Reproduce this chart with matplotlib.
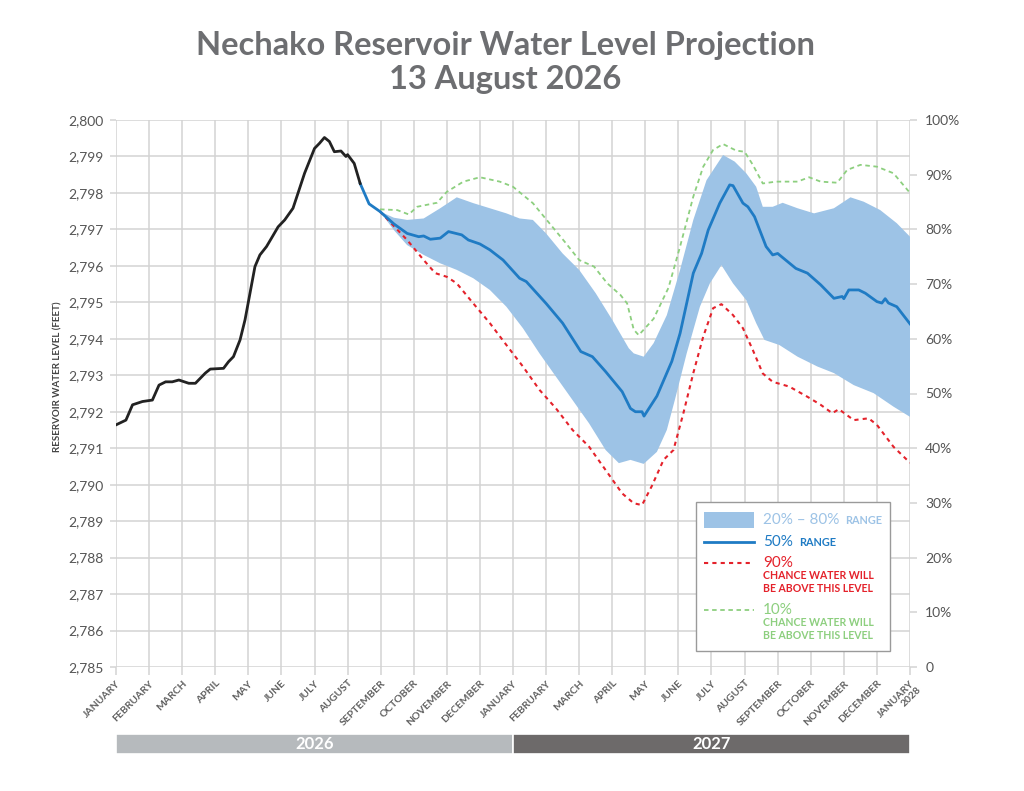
import numpy as np
import matplotlib
matplotlib.use("Agg")
from matplotlib import pyplot as plt
from matplotlib.patches import Rectangle
from matplotlib.lines import Line2D

plt.rcParams["font.family"] = ["Lato", "DejaVu Sans"]

# months since January 2026
months = ["JANUARY", "FEBRUARY", "MARCH", "APRIL", "MAY", "JUNE", "JULY", "AUGUST",
          "SEPTEMBER", "OCTOBER", "NOVEMBER", "DECEMBER"]
month_labels = months + months + ["JANUARY\n2028"]
years = ["2026", "2027"]

# observed level
hist_m = [0.0, 0.3, 0.5, 0.8, 1.1, 1.3, 1.5, 1.7, 1.9, 2.2, 2.4, 2.55, 2.7, 2.85, 3.25, 3.4,
          3.55, 3.75, 3.9, 4.05, 4.2, 4.35, 4.55, 4.7, 4.9, 5.1, 5.35, 5.5, 5.7, 6.0, 6.15,
          6.3, 6.45, 6.6, 6.8, 6.95, 7.0, 7.2, 7.38]
hist_v = [2791.64, 2791.77, 2792.19, 2792.28, 2792.32, 2792.73, 2792.82, 2792.82, 2792.87,
          2792.78, 2792.78, 2792.92, 2793.06, 2793.17, 2793.19, 2793.37, 2793.51, 2793.97,
          2794.52, 2795.25, 2795.98, 2796.30, 2796.53, 2796.76, 2797.07, 2797.26, 2797.58,
          2797.99, 2798.54, 2799.22, 2799.36, 2799.52, 2799.41, 2799.13, 2799.15, 2799.0,
          2799.05, 2798.81, 2798.26]

# 50% projection
median_m = [7.38, 7.65, 7.98, 8.4, 8.8, 9.15, 9.3, 9.5, 9.8, 10.05, 10.45, 10.65, 11.0, 11.3,
            11.7, 12.2, 12.4, 13.0, 13.5, 14.05, 14.4, 14.8, 15.3, 15.55, 15.7, 15.9, 15.96,
            16.35, 16.8, 17.05, 17.45, 17.7, 17.9, 18.25, 18.55, 18.65, 18.95, 19.1, 19.3,
            19.65, 19.85, 20.0, 20.55, 20.9, 21.3, 21.7, 21.95, 22.0, 22.15, 22.45, 22.65,
            23.0, 23.15, 23.25, 23.35, 23.6, 24.0]
median_v = [2798.26, 2797.70, 2797.49, 2797.15, 2796.89, 2796.80, 2796.82, 2796.73, 2796.76,
            2796.94, 2796.85, 2796.71, 2796.60, 2796.44, 2796.16, 2795.66, 2795.57, 2794.97,
            2794.43, 2793.65, 2793.51, 2793.10, 2792.55, 2792.09, 2792.00, 2792.00, 2791.88,
            2792.43, 2793.38, 2794.15, 2795.80, 2796.34, 2796.98, 2797.72, 2798.22, 2798.20,
            2797.72, 2797.62, 2797.35, 2796.53, 2796.30, 2796.34, 2795.93, 2795.80, 2795.48,
            2795.11, 2795.16, 2795.10, 2795.34, 2795.34, 2795.25, 2795.02, 2794.98, 2795.10,
            2794.98, 2794.88, 2794.41]

# 20% - 80% band
band_up_m = [7.98, 8.4, 8.8, 9.3, 9.8, 10.3, 10.8, 11.3, 11.8, 12.2, 12.6, 13.0, 13.5, 14.0,
             14.5, 15.0, 15.5, 15.65, 15.95, 16.25, 16.65, 17.05, 17.45, 17.85, 18.35, 18.7,
             19.05, 19.35, 19.55, 19.85, 20.15, 20.6, 21.1, 21.7, 21.9, 22.2, 22.6, 23.1,
             23.6, 24.0]
band_up_v = [2797.49, 2797.32, 2797.26, 2797.30, 2797.58, 2797.88, 2797.72, 2797.58, 2797.44,
             2797.30, 2797.26, 2796.89, 2796.34, 2795.89, 2795.25, 2794.52, 2793.74, 2793.60,
             2793.51, 2793.88, 2794.65, 2795.89, 2797.26, 2798.35, 2799.04, 2798.86, 2798.54,
             2798.17, 2797.62, 2797.62, 2797.73, 2797.58, 2797.44, 2797.58, 2797.70, 2797.88,
             2797.76, 2797.53, 2797.17, 2796.80]
band_lo_m = [7.98, 8.4, 8.8, 9.3, 9.8, 10.3, 10.8, 11.3, 11.8, 12.3, 12.8, 13.3, 13.8, 14.3,
             14.8, 15.2, 15.55, 15.95, 16.35, 16.65, 16.9, 17.25, 17.65, 17.95, 18.3, 18.65,
             19.05, 19.35, 19.6, 20.05, 20.6, 21.2, 21.7, 22.3, 22.9, 23.5, 24.0]
band_lo_v = [2797.49, 2796.98, 2796.57, 2796.30, 2796.07, 2795.89, 2795.66, 2795.34, 2794.88,
             2794.29, 2793.60, 2792.96, 2792.32, 2791.68, 2790.95, 2790.59, 2790.68, 2790.57,
             2790.90, 2791.50, 2792.35, 2793.60, 2794.88, 2795.52, 2796.02, 2795.52, 2795.06,
             2794.43, 2793.97, 2793.83, 2793.51, 2793.24, 2793.06, 2792.73, 2792.51, 2792.14,
             2791.86]

# 90% chance above
p90_m = [7.98, 8.8, 9.3, 9.65, 10.0, 10.3, 10.8, 11.3, 11.8, 12.3, 12.8, 13.3, 13.8, 14.3,
         14.8, 15.3, 15.65, 15.9, 16.2, 16.55, 16.85, 17.15, 17.45, 17.75, 18.05, 18.3, 18.65,
         18.95, 19.25, 19.55, 19.85, 20.35, 20.9, 21.3, 21.65, 21.85, 22.3, 22.75, 23.0, 23.5,
         24.0]
p90_v = [2797.49, 2796.71, 2796.16, 2795.80, 2795.70, 2795.52, 2794.97, 2794.43, 2793.83,
         2793.24, 2792.60, 2792.09, 2791.50, 2791.04, 2790.40, 2789.76, 2789.49, 2789.44,
         2789.97, 2790.68, 2790.95, 2791.96, 2793.06, 2794.06, 2794.84, 2794.95, 2794.65,
         2794.29, 2793.69, 2793.05, 2792.82, 2792.69, 2792.41, 2792.19, 2791.96, 2792.07,
         2791.77, 2791.82, 2791.64, 2791.04, 2790.60]

# 10% chance above
p10_m = [7.98, 8.5, 8.85, 9.1, 9.7, 10.0, 10.5, 11.0, 11.6, 12.0, 12.6, 13.1, 13.6, 14.0,
         14.45, 14.85, 15.25, 15.45, 15.65, 15.8, 16.25, 16.7, 17.05, 17.45, 17.75, 18.05,
         18.35, 18.75, 19.0, 19.25, 19.55, 19.95, 20.6, 20.95, 21.3, 21.8, 22.1, 22.5, 23.0,
         23.5, 24.0]
p10_v = [2797.55, 2797.53, 2797.41, 2797.62, 2797.73, 2798.03, 2798.31, 2798.43, 2798.31,
         2798.17, 2797.72, 2797.17, 2796.62, 2796.16, 2795.98, 2795.52, 2795.20, 2794.97,
         2794.25, 2794.10, 2794.55, 2795.40, 2796.53, 2797.90, 2798.72, 2799.18, 2799.34,
         2799.16, 2799.13, 2798.77, 2798.26, 2798.31, 2798.31, 2798.43, 2798.31, 2798.28,
         2798.63, 2798.77, 2798.72, 2798.54, 2798.0]

GRID = "#d3d3d3"
TXT = "#555555"
BAND = "#9dc3e6"
BLUE = "#1f7bc4"
RED = "#e4222b"
GREEN = "#8dcf7f"

W, H = 1024, 791
fig = plt.figure(figsize=(W / 100, H / 100), dpi=100)


def fx(px):
    return px / W


def fy(py):
    return 1 - py / H


ax = fig.add_axes([fx(116), fy(667), fx(910) - fx(116), fy(120) - fy(667)])
ax.set_xlim(0, 24)
ax.set_ylim(2785, 2800)
ax.set_xticks(range(25))
ax.set_xticklabels(month_labels, rotation=45, ha="right", va="top",
                   rotation_mode="anchor", fontsize=7.5, color="#606060",
                   fontweight="bold", linespacing=1.0)
ax.set_yticks(range(2785, 2801))
ax.set_yticklabels([f"{v:,}" for v in range(2785, 2801)], fontsize=10, color=TXT)
ax.tick_params(axis="x", length=5.5, color=GRID, width=1.1, pad=3)
ax.tick_params(axis="y", length=4, color=GRID, width=1.1, pad=5)
ax.grid(True, color=GRID, linewidth=1.1)
ax.set_axisbelow(True)
for s in ax.spines.values():
    s.set_visible(False)

poly_x = np.concatenate([band_up_m, band_lo_m[::-1]])
poly_y = np.concatenate([band_up_v, band_lo_v[::-1]])
ax.fill(poly_x, poly_y, color=BAND, linewidth=0, zorder=2)
ax.plot(p10_m, p10_v, color=GREEN, linestyle=(0, (2.5, 2)), linewidth=1.3, zorder=3)
ax.plot(p90_m, p90_v, color=RED, linestyle=(0, (2, 2)), linewidth=1.5, zorder=3)
ax.plot(median_m, median_v, color=BLUE, linewidth=2.0, zorder=4)
ax.plot(hist_m, hist_v, color="#222222", linewidth=2.0, zorder=5)

ax2 = ax.twinx()
ax2.set_ylim(0, 100)
ax2.set_yticks(range(0, 101, 10))
ax2.set_yticklabels(["0"] + [f"{v}%" for v in range(10, 101, 10)], fontsize=10, color=TXT)
ax2.tick_params(axis="y", length=5, color=GRID, width=1.1, pad=6)
for s in ax2.spines.values():
    s.set_visible(False)

fig.text(fx(58), fy(377), "RESERVOIR WATER LEVEL (FEET)", rotation=90, ha="center",
         va="center", fontsize=7, color="#444444", fontweight="bold")

# title
tcol = "#6d6e71"
fig.text(fx(505), fy(45), "Nechako Reservoir Water Level Projection", ha="center",
         va="center", fontsize=23.5, fontweight="bold", color=tcol)
fig.text(fx(505), fy(80), "13 August 2026", ha="center", va="center", fontsize=23.5,
         fontweight="bold", color=tcol)

# year bar
axy = fig.add_axes([fx(116), fy(754), fx(910) - fx(116), fy(734) - fy(754)])
axy.set_xlim(0, 24)
axy.set_ylim(0, 1)
axy.barh(0.5, 12, left=0, height=1, color="#b6babd", edgecolor="white", linewidth=1.2)
axy.barh(0.5, 12, left=12, height=1, color="#6d6a6a", edgecolor="white", linewidth=1.2)
for i, yr in enumerate(years):
    axy.text(12 * i + 6, 0.5, yr, ha="center", va="center", color="white",
             fontsize=12, fontweight="bold")
axy.axis("off")

# legend
lg = fig.add_axes([0, 0, 1, 1])
lg.set_xlim(0, W)
lg.set_ylim(H, 0)
lg.axis("off")
lg.add_patch(Rectangle((696, 502), 194, 149, facecolor="white", edgecolor="#9a9a9a",
                       linewidth=1.0))
lg.add_patch(Rectangle((704, 512), 50, 16, facecolor=BAND, edgecolor="none"))
lg.text(763, 520, "20% – 80%", color=BAND, fontsize=11, va="center")
lg.text(845, 521, "RANGE", color=BAND, fontsize=7.8, va="center", fontweight="bold")
lg.add_line(Line2D([704, 754], [542, 542], color=BLUE, linewidth=2.0))
lg.text(763, 542, "50%", color=BLUE, fontsize=11, va="center")
lg.text(799, 543, "RANGE", color=BLUE, fontsize=7.8, va="center", fontweight="bold")
lg.add_line(Line2D([704, 754], [563, 563], color=RED, linewidth=1.5,
                   linestyle=(0, (2, 2))))
lg.text(763, 563, "90%", color=RED, fontsize=11, va="center")
lg.text(763, 582, "CHANCE WATER WILL\nBE ABOVE THIS LEVEL", color=RED, fontsize=7.6,
        va="center", linespacing=1.15, fontweight="bold")
lg.add_line(Line2D([704, 754], [610, 610], color=GREEN, linewidth=1.3,
                   linestyle=(0, (2.5, 2))))
lg.text(763, 610, "10%", color=GREEN, fontsize=11, va="center")
lg.text(763, 629, "CHANCE WATER WILL\nBE ABOVE THIS LEVEL", color=GREEN, fontsize=7.6,
        va="center", linespacing=1.15, fontweight="bold")

fig.savefig("out.png", dpi=100, facecolor="white")
